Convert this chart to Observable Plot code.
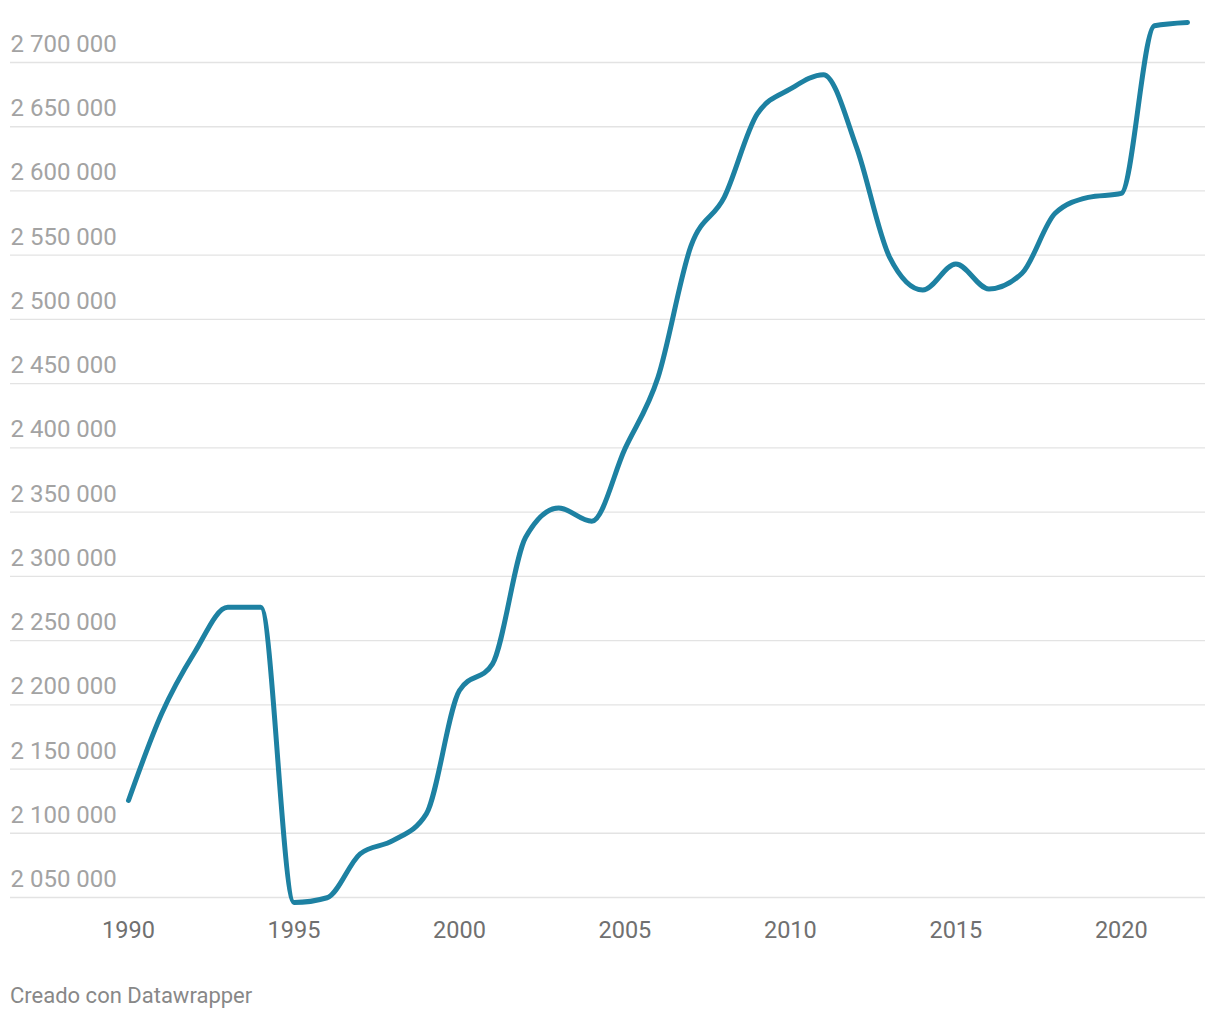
<!DOCTYPE html>
<html>
<head>
<meta charset="utf-8">
<script src="https://cdn.jsdelivr.net/npm/d3@7"></script>
<script src="https://cdn.jsdelivr.net/npm/@observablehq/plot@0.6"></script>
<style>
  body { margin: 0; background: #fff; font-family: Roboto, "Noto Sans", sans-serif; }
  #chart svg { display: block; }
  #footer { margin-top: 24px; padding-left: 10px; font-size: 22px; line-height: 24px; color: #888; font-family: Roboto, sans-serif; }
</style>
</head>
<body>
<div id="chart"></div>
<div id="footer">Creado con Datawrapper</div>
<script>
const years = [1990,1991,1992,1993,1994,1995,1996,1997,1998,1999,2000,2001,2002,2003,2004,2005,2006,2007,2008,2009,2010,2011,2012,2013,2014,2015,2016,2017,2018,2019,2020,2021,2022];
const values = [2125500,2193000,2240900,2275900,2275900,2046100,2049800,2084000,2094400,2115100,2211100,2231900,2330400,2353200,2342900,2399200,2454900,2557400,2595000,2660000,2679400,2690500,2633900,2548300,2522900,2543100,2523700,2535900,2582600,2595000,2598100,2728600,2731200];
const yTicks = [2050000,2100000,2150000,2200000,2250000,2300000,2350000,2400000,2450000,2500000,2550000,2600000,2650000,2700000];
const xTicks = [1990,1995,2000,2005,2010,2015,2020];

const data = years.map((year, i) => ({year, value: values[i]}));
const fmt = d => d3.format(",")(d).replace(/,/g, " ");

const chart = Plot.plot({
  width: 1220,
  height: 960,
  marginLeft: 10,
  marginRight: 15,
  marginTop: 0,
  marginBottom: 63,
  style: {fontFamily: "Roboto, sans-serif", background: "#fff"},
  x: {domain: [1990, 2022], range: [128, 1187], axis: null},
  y: {domain: [2050000, 2700000], range: [897, 62], axis: null},
  marks: [
    Plot.ruleY(yTicks, {stroke: "#e3e3e3", strokeWidth: 1.3}),
    Plot.text(yTicks, {
      y: d => d, frameAnchor: "left", text: fmt, textAnchor: "start",
      lineAnchor: "bottom", dy: -10.5, fontSize: 24, fill: "#a3a3a3"
    }),
    Plot.text(xTicks, {
      x: d => d, frameAnchor: "bottom", text: d => String(d),
      lineAnchor: "top", dy: 24, fontSize: 23.5, fill: "#707070"
    }),
    Plot.line(data, {
      x: "year", y: "value", curve: "monotone-x",
      stroke: "#1d81a2", strokeWidth: 5, strokeLinecap: "round", strokeLinejoin: "round"
    })
  ]
});
document.getElementById("chart").appendChild(chart);
</script>
</body>
</html>
